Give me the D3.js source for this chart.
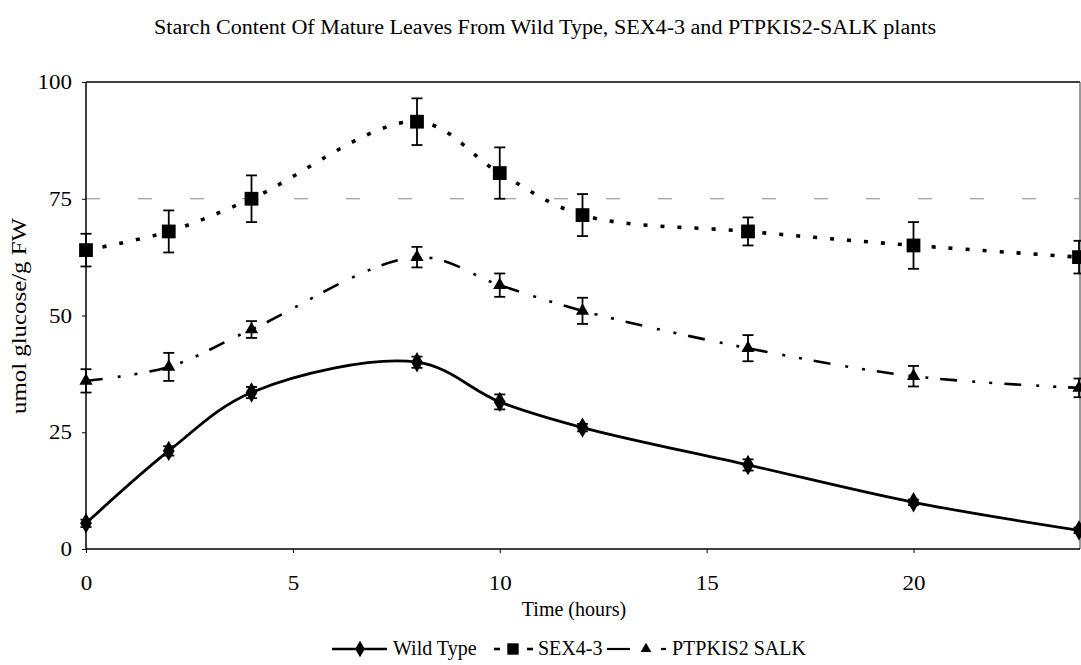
<!DOCTYPE html>
<html><head><meta charset="utf-8">
<script src="https://cdn.jsdelivr.net/npm/d3@7"></script>
<style>
html,body{margin:0;padding:0;background:#fff;}
text{font-family:"Liberation Serif","Times New Roman","DejaVu Serif",serif;fill:#000;}
</style></head>
<body><svg id="c" width="1081" height="665"></svg>
<script>
const hours = [0, 2, 4, 8, 10, 12, 16, 20, 24];
const wildType = [5.5, 21, 33.5, 40, 31.5, 26, 18, 10, 4];
const wildTypeErr = [0.8, 1.0, 1.2, 1.2, 1.6, 0.8, 1.2, 0.6, 0.6];
const sex43 = [64, 68, 75, 91.5, 80.5, 71.5, 68, 65, 62.5];
const sex43Err = [3.5, 4.5, 5, 5, 5.5, 4.5, 3, 5, 3.5];
const ptpkis2 = [36, 39, 47, 62.5, 56.5, 51, 43, 37, 34.5];
const ptpkis2Err = [2.5, 3, 1.8, 2.2, 2.5, 2.8, 2.8, 2.2, 2.0];
const xTicks = [0, 5, 10, 15, 20];
const yTicks = [0, 25, 50, 75, 100];
const seriesNames = ["Wild Type", "SEX4-3", "PTPKIS2 SALK"];
const titleText = "Starch Content Of Mature Leaves From Wild Type, SEX4-3 and PTPKIS2-SALK plants";
const xTitle = "Time (hours)";
const yTitle = "umol glucose/g FW";

const svg = d3.select("#c");
const L = 86, R = 1079, T = 82, B = 549;
const x = d3.scaleLinear().domain([0, 24]).range([L, R]);
const y = d3.scaleLinear().domain([0, 100]).range([B, T]);
const SERIF = '"Liberation Serif","Times New Roman",serif';

// title
svg.append("text").attr("x", 545).attr("y", 34).attr("text-anchor", "middle")
  .attr("textLength", 782).attr("lengthAdjust", "spacingAndGlyphs")
  .style("font-size", "20px").text(titleText);

// faint gridline at 75
svg.append("line").attr("x1", L).attr("x2", R).attr("y1", y(75)).attr("y2", y(75))
  .attr("stroke", "#888").attr("stroke-width", 1).attr("stroke-dasharray", "14,38");

// frame top & right
svg.append("line").attr("x1", L).attr("x2", R + 1).attr("y1", T).attr("y2", T)
  .attr("stroke", "#000").attr("stroke-width", 1.5);
svg.append("line").attr("x1", R + 1).attr("x2", R + 1).attr("y1", T).attr("y2", B)
  .attr("stroke", "#555").attr("stroke-width", 1.2);

// axes
const xAxis = svg.append("g").attr("transform", `translate(0,${B})`)
  .call(d3.axisBottom(x).tickValues(xTicks).tickSize(4).tickPadding(22).tickFormat(d3.format("d")));
const yAxis = svg.append("g").attr("transform", `translate(${L},0)`)
  .call(d3.axisLeft(y).tickValues(yTicks).tickSize(4).tickPadding(10).tickFormat(d3.format("d")));
[xAxis, yAxis].forEach(g => {
  g.attr("font-family", SERIF);
  g.select(".domain").attr("stroke", "#000").attr("stroke-width", 1.5);
  g.selectAll(".tick line").attr("stroke", "#000");
  g.selectAll("text").style("font-size", "21px")
    .attr("textLength", function() { return this.textContent.length * 11.5; })
    .attr("lengthAdjust", "spacingAndGlyphs");
});
xAxis.select(".domain").attr("d", `M${L},0H${R + 1}`);
yAxis.select(".domain").attr("d", `M0,${B}V${T}`);

// axis titles
svg.append("text").attr("x", 574).attr("y", 616).attr("text-anchor", "middle")
  .style("font-size", "20px").text(xTitle);
svg.append("text").attr("transform", `translate(26,316) rotate(-90)`)
  .attr("text-anchor", "middle").attr("textLength", 196).attr("lengthAdjust", "spacingAndGlyphs")
  .style("font-size", "20px").text(yTitle);

const line = d3.line().x((d, i) => x(hours[i])).y(d => y(d)).curve(d3.curveCatmullRom.alpha(0.5));

const series = [
  {vals: wildType, err: wildTypeErr, dash: null, width: 2.8, sym: d3.symbolDiamond, size: 120},
  {vals: sex43, err: sex43Err, dash: "4,13", width: 3.6, sym: d3.symbolSquare, size: 190},
  {vals: ptpkis2, err: ptpkis2Err, dash: "17,15,3,14,3,12", width: 2.6, sym: d3.symbolTriangle, size: 75}
];

series.forEach(s => {
  svg.append("path").attr("d", line(s.vals)).attr("fill", "none").attr("stroke", "#000")
    .attr("stroke-width", s.width).attr("stroke-dasharray", s.dash);
  const g = svg.append("g");
  s.vals.forEach((v, i) => {
    const cx = x(hours[i]);
    const y1 = y(v + s.err[i]), y2 = y(v - s.err[i]);
    g.append("line").attr("x1", cx).attr("x2", cx).attr("y1", y1).attr("y2", y2).attr("stroke", "#000").attr("stroke-width", 1.8);
    g.append("line").attr("x1", cx - 5.5).attr("x2", cx + 5.5).attr("y1", y1).attr("y2", y1).attr("stroke", "#000").attr("stroke-width", 1.8);
    g.append("line").attr("x1", cx - 5.5).attr("x2", cx + 5.5).attr("y1", y2).attr("y2", y2).attr("stroke", "#000").attr("stroke-width", 1.8);
    g.append("path").attr("d", d3.symbol().type(s.sym).size(s.size)())
      .attr("transform", `translate(${cx},${y(v)})`).attr("fill", "#000");
  });
});

// legend
const leg = svg.append("g").attr("transform", "translate(0,649)");
const legItems = [
  {segs: [[332, 387]], mx: 360, tx: 393, width: 2.4, sym: d3.symbolDiamond, size: 80},
  {segs: [[494, 500], [527, 533]], mx: 513, tx: 538, width: 2.6, sym: d3.symbolSquare, size: 130},
  {segs: [[607, 630], [661, 666]], mx: 646, tx: 672, width: 2.2, sym: d3.symbolTriangle, size: 50}
];
legItems.forEach((it, i) => {
  it.segs.forEach(sg => leg.append("line").attr("x1", sg[0]).attr("x2", sg[1]).attr("y1", 0).attr("y2", 0)
    .attr("stroke", "#000").attr("stroke-width", it.width));
  leg.append("path").attr("d", d3.symbol().type(it.sym).size(it.size)())
    .attr("transform", `translate(${it.mx},0)`).attr("fill", "#000");
  leg.append("text").attr("x", it.tx).attr("y", 6).style("font-size", "20px").text(seriesNames[i]);
});
</script></body></html>
